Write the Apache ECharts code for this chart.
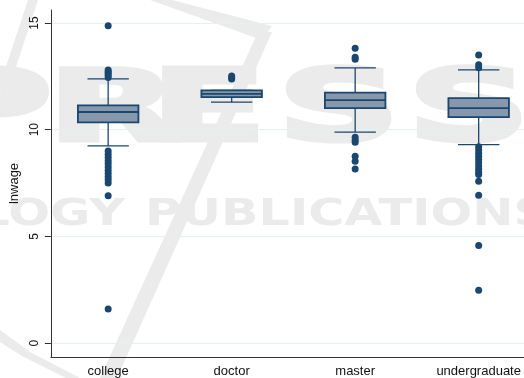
<!DOCTYPE html>
<html>
<head>
<meta charset="utf-8">
<script src="https://cdn.jsdelivr.net/npm/echarts@6/dist/echarts.min.js"></script>
<style>html,body{margin:0;padding:0;background:#fff;}#c{width:524px;height:378px;}</style>
</head>
<body>
<div id="c"></div>
<script>
// ---- data ----
const categories = ['college', 'doctor', 'master', 'undergraduate'];
const lowWhisker  = [9.24, 11.29, 9.89, 9.30];
const q1          = [10.34, 11.53, 11.01, 10.59];
const median      = [10.83, 11.68, 11.39, 11.01];
const q3          = [11.14, 11.84, 11.74, 11.48];
const highWhisker = [12.38, 11.84, 12.90, 12.80];
const outliersCollege = [14.87, 12.45, 12.55, 12.65, 12.72, 12.8,
  9.0, 8.85, 8.7, 8.55, 8.4, 8.25, 8.1, 7.95, 7.8, 7.65, 7.5, 6.9, 1.6];
const outliersDoctor = [12.38, 12.45, 12.52];
const outliersMaster = [13.82, 13.4, 13.3, 9.64, 9.5, 9.41, 8.75, 8.52, 8.16];
const outliersUndergraduate = [13.5, 13.04, 12.9, 9.2, 9.05, 8.9, 8.75, 8.6, 8.45,
  8.3, 8.15, 8.0, 7.9, 7.58, 6.93, 4.57, 2.48];
const yTicks = [0, 5, 10, 15];
const yTitle = 'lnwage';

// ---- build ----
const boxData = categories.map((c, i) => [i, lowWhisker[i], q1[i], median[i], q3[i], highWhisker[i]]);
const outlierLists = [outliersCollege, outliersDoctor, outliersMaster, outliersUndergraduate];
const outlierData = [];
outlierLists.forEach((list, i) => list.forEach(v => outlierData.push([i, v])));

const NAVY = '#1a476f';
const BOXFILL = '#8798ad';
const WM = '#ebebeb';

const chart = echarts.init(document.getElementById('c'), null, {renderer: 'canvas'});

function wmText(text, x, y, size, weight, sx, align, thick) {
  const style = {text: text, font: weight + ' ' + size + 'px "DejaVu Sans", sans-serif', fill: WM,
    textAlign: align || 'left', textVerticalAlign: 'bottom'};
  if (thick) { style.stroke = WM; style.lineWidth = thick; style.lineJoin = 'round'; }
  return {type: 'text', x: x, y: y, scaleX: sx, z: -10, silent: true, style: style};
}
function wmPoly(points) {
  return {type: 'polygon', z: -10, silent: true, shape: {points: points}, style: {fill: WM}};
}

chart.setOption({
  animation: false,
  backgroundColor: '#fff',
  graphic: [
    wmPoly([[150, 0], [172, 0], [272, 26], [262, 40]]),
    wmPoly([[258, 32], [272, 32], [117, 378], [100, 378]]),
    wmPoly([[28, 0], [38, 0], [5, 100], [-5, 100]]),
    wmPoly([[0, 330], [30, 352], [80, 378], [66, 378], [22, 356], [0, 342]]),
    wmText('P', -72, 164, 98, 'bold', 1.72, 'left', 5),
    wmText('R', 48, 164, 98, 'bold', 1.72, 'left', 5),
    wmText('E', 151, 164, 98, 'bold', 1.72, 'left', 5),
    wmText('S', 278, 164, 98, 'bold', 1.72, 'left', 5),
    wmText('S', 408, 164, 98, 'bold', 1.72, 'left', 5),
    wmText('TECHNOLOGY', 125, 234, 37, 'bold', 1.33, 'right'),
    wmText('PUBLICATIONS', 145, 234, 37, 'bold', 1.33)
  ],
  grid: {left: 49, top: 10, right: 0, bottom: 20, containLabel: false},
  xAxis: {
    type: 'value', min: -0.4637, max: 3.367,
    axisLine: {show: true, onZero: false, lineStyle: {color: '#333', width: 1}},
    axisTick: {show: false},
    splitLine: {show: false},
    axisLabel: {
      customValues: [0, 1, 2, 3],
      formatter: v => categories[Math.round(v)],
      fontFamily: 'Liberation Sans', fontSize: 13, color: '#111', margin: 8
    }
  },
  yAxis: {
    type: 'value', min: -0.654, max: 15.61,
    name: yTitle, nameLocation: 'middle', nameGap: 23, nameRotate: 90,
    nameTextStyle: {fontFamily: 'Liberation Sans', fontSize: 13, color: '#111'},
    axisLine: {show: true, onZero: false, lineStyle: {color: '#333', width: 1}},
    axisTick: {show: true, customValues: yTicks, length: 6, lineStyle: {color: '#333'}},
    axisLabel: {customValues: yTicks, rotate: 90, margin: 10,
      fontFamily: 'Liberation Sans', fontSize: 12, color: '#111'},
    splitLine: {show: true, lineStyle: {color: '#e6eff1', width: 1}}
  },
  series: [
    {
      type: 'custom',
      data: boxData,
      encode: {x: 0, y: [1, 2, 3, 4, 5]},
      z: 3,
      renderItem: function (params, api) {
        const x = api.value(0);
        const lo = api.coord([x, api.value(1)]);
        const p1 = api.coord([x, api.value(2)]);
        const md = api.coord([x, api.value(3)]);
        const p3 = api.coord([x, api.value(4)]);
        const hi = api.coord([x, api.value(5)]);
        const band = api.size([1, 0])[0];
        const bw = band * 0.49, cw = band * 0.335;
        const cx = lo[0];
        const ls = {stroke: NAVY, lineWidth: 1.3};
        return {
          type: 'group',
          children: [
            {type: 'line', shape: {x1: cx, y1: hi[1], x2: cx, y2: p3[1]}, style: ls},
            {type: 'line', shape: {x1: cx, y1: p1[1], x2: cx, y2: lo[1]}, style: ls},
            {type: 'line', shape: {x1: cx - cw / 2, y1: hi[1], x2: cx + cw / 2, y2: hi[1]}, style: ls},
            {type: 'line', shape: {x1: cx - cw / 2, y1: lo[1], x2: cx + cw / 2, y2: lo[1]}, style: ls},
            {type: 'rect', shape: {x: cx - bw / 2, y: p3[1], width: bw, height: p1[1] - p3[1]},
              style: {fill: BOXFILL, stroke: NAVY, lineWidth: 1.8}},
            {type: 'line', shape: {x1: cx - bw / 2, y1: md[1], x2: cx + bw / 2, y2: md[1]},
              style: {stroke: NAVY, lineWidth: 1.8}}
          ]
        };
      }
    },
    {
      type: 'scatter',
      data: outlierData,
      symbol: 'circle',
      symbolSize: 7,
      z: 4,
      itemStyle: {color: NAVY, opacity: 1}
    }
  ]
});
</script>
</body>
</html>
